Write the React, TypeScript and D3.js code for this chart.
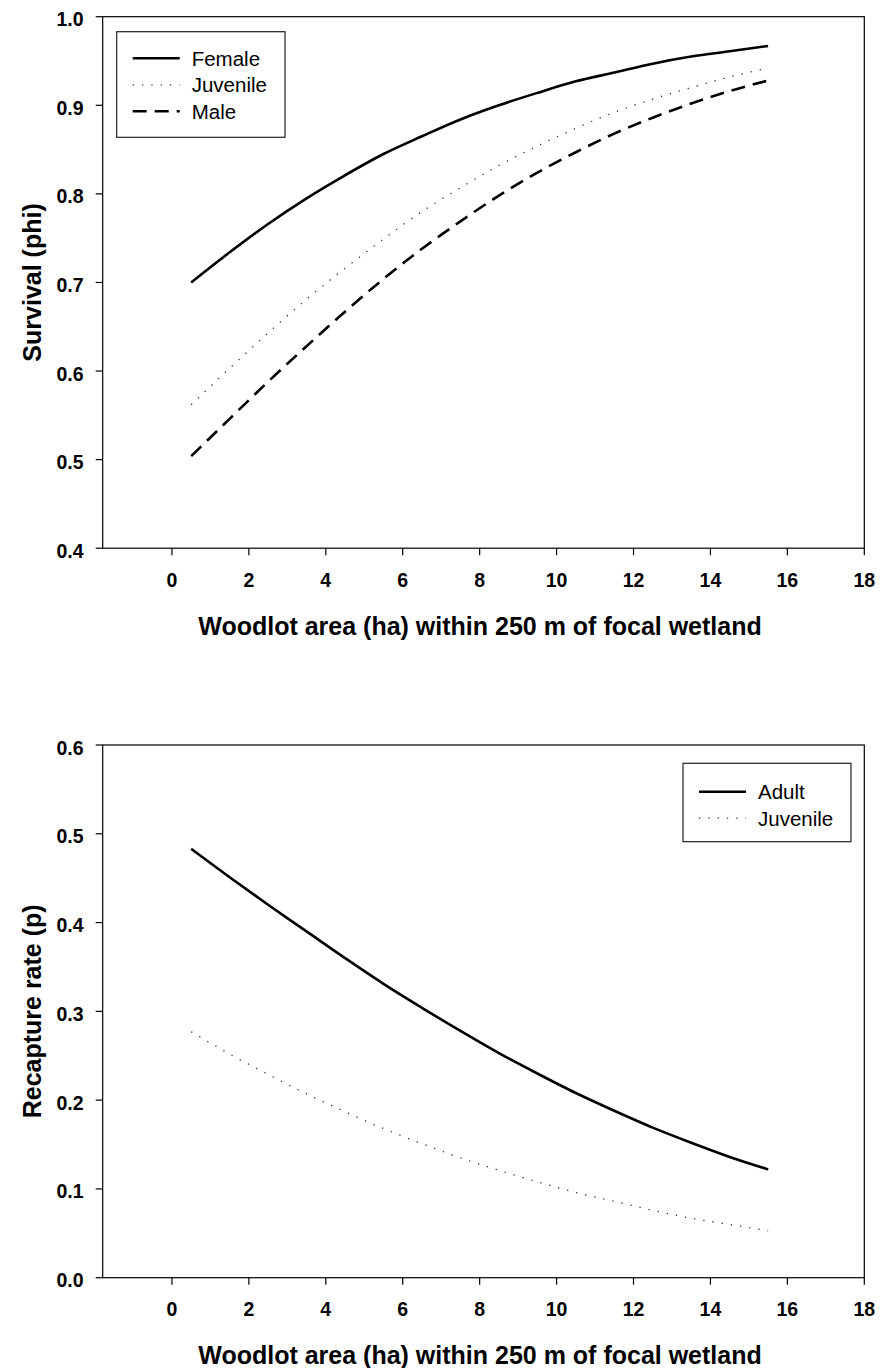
import React from 'react';
import { scaleLinear, line, curveMonotoneX, format } from 'd3';

// woodlot area (ha) at which curves were read
const AREA = [0.5, 1.5, 2.5, 3.5, 4.5, 5.5, 6.5, 7.5, 8.5, 9.5, 10.5, 11.5, 12.5, 13.5, 14.5, 15.5];

// survival (phi)
const FEMALE = [0.700, 0.734, 0.766, 0.795, 0.821, 0.845, 0.865, 0.884, 0.900, 0.914, 0.927, 0.937, 0.947, 0.955, 0.961, 0.967];
const JUVENILE_PHI = [0.562, 0.603, 0.643, 0.681, 0.716, 0.749, 0.780, 0.807, 0.832, 0.854, 0.874, 0.892, 0.907, 0.920, 0.932, 0.942];
const MALE = [0.504, 0.546, 0.588, 0.628, 0.667, 0.704, 0.738, 0.769, 0.798, 0.824, 0.847, 0.868, 0.886, 0.902, 0.916, 0.928];

// recapture rate (p)
const ADULT = [0.483, 0.451, 0.420, 0.390, 0.360, 0.331, 0.304, 0.278, 0.253, 0.230, 0.208, 0.188, 0.169, 0.152, 0.136, 0.122];
const JUVENILE_P = [0.277, 0.252, 0.229, 0.207, 0.187, 0.168, 0.151, 0.135, 0.121, 0.108, 0.096, 0.086, 0.076, 0.067, 0.060, 0.053];

const X_TICKS = [0, 2, 4, 6, 8, 10, 12, 14, 16, 18];
const PHI_TICKS = [0.4, 0.5, 0.6, 0.7, 0.8, 0.9, 1.0];
const P_TICKS = [0.0, 0.1, 0.2, 0.3, 0.4, 0.5, 0.6];

const X_TITLE = 'Woodlot area (ha) within 250 m of focal wetland';

const FONT = '"Liberation Sans", Arial, sans-serif';
const STYLES = {
  solid: { stroke: '#000', strokeWidth: 2.6, dash: undefined },
  dotted: { stroke: '#333', strokeWidth: 1.3, dash: '1.3 8' },
  dashed: { stroke: '#000', strokeWidth: 2.6, dash: '14 8' },
};

const L = 102.7;
const R = 864.3;
const fmt = format('.1f');

function Panel({ top, bottom, yDomain, yTicks, yTitle, series, legend }) {
  const x = scaleLinear().domain([-1.8, 18]).range([L, R]);
  const y = scaleLinear().domain(yDomain).range([bottom, top]);
  const mk = line().x((d) => x(d[0])).y((d) => y(d[1])).curve(curveMonotoneX);

  return (
    <g>
      <rect x={L} y={top} width={R - L} height={bottom - top} fill="none" stroke="#000" strokeWidth={1.2} />
      {yTicks.map((t) => (
        <g key={t}>
          <line x1={L - 7} x2={L} y1={y(t)} y2={y(t)} stroke="#000" strokeWidth={1.2} />
          <text x={83.5} y={y(t) + 9.5} textAnchor="end" fontSize={19.5} fontWeight="bold">{fmt(t)}</text>
        </g>
      ))}
      {X_TICKS.map((t) => (
        <g key={t}>
          <line x1={x(t)} x2={x(t)} y1={bottom} y2={bottom + 7} stroke="#000" strokeWidth={1.2} />
          <text x={x(t)} y={bottom + 38.5} textAnchor="middle" fontSize={19.5} fontWeight="bold">{t}</text>
        </g>
      ))}
      <text x={480} y={bottom + 86.5} textAnchor="middle" fontSize={25} fontWeight="bold">{X_TITLE}</text>
      <text transform={`translate(41,${(top + bottom) / 2}) rotate(-90)`} textAnchor="middle" fontSize={25} fontWeight="bold">
        {yTitle}
      </text>
      {series.map((s) => {
        const st = STYLES[s.style];
        return (
          <path key={s.name} d={mk(AREA.map((a, i) => [a, s.values[i]]))} fill="none"
            stroke={st.stroke} strokeWidth={st.strokeWidth} strokeDasharray={st.dash} />
        );
      })}
      <rect x={legend.x} y={legend.y} width={legend.w} height={legend.h} fill="#fff" stroke="#222" strokeWidth={1.2} />
      {series.map((s, i) => {
        const st = STYLES[s.style];
        const ly = legend.y + legend.first + i * 26.5;
        return (
          <g key={s.name}>
            <line x1={legend.x + 16} x2={legend.x + 63} y1={ly} y2={ly} stroke={st.stroke}
              strokeWidth={st.strokeWidth} strokeDasharray={st.dash} />
            <text x={legend.x + 75} y={ly + 7.3} fontSize={20.5}>{s.name}</text>
          </g>
        );
      })}
    </g>
  );
}

export default function App() {
  return (
    <div style={{ position: 'absolute', left: 0, top: 0 }}>
      <svg width={880} height={1368} fontFamily={FONT} style={{ display: 'block' }}>
        <rect width={880} height={1368} fill="#fff" />
        <Panel
          top={16.7}
          bottom={548.2}
          yDomain={[0.4, 1.0]}
          yTicks={PHI_TICKS}
          yTitle="Survival (phi)"
          series={[
            { name: 'Female', values: FEMALE, style: 'solid' },
            { name: 'Juvenile', values: JUVENILE_PHI, style: 'dotted' },
            { name: 'Male', values: MALE, style: 'dashed' },
          ]}
          legend={{ x: 116.7, y: 31.7, w: 168.3, h: 105.6, first: 26.6 }}
        />
        <Panel
          top={745}
          bottom={1277.7}
          yDomain={[0, 0.6]}
          yTicks={P_TICKS}
          yTitle="Recapture rate (p)"
          series={[
            { name: 'Adult', values: ADULT, style: 'solid' },
            { name: 'Juvenile', values: JUVENILE_P, style: 'dotted' },
          ]}
          legend={{ x: 683, y: 763.3, w: 168, h: 78.4, first: 28.4 }}
        />
      </svg>
    </div>
  );
}
